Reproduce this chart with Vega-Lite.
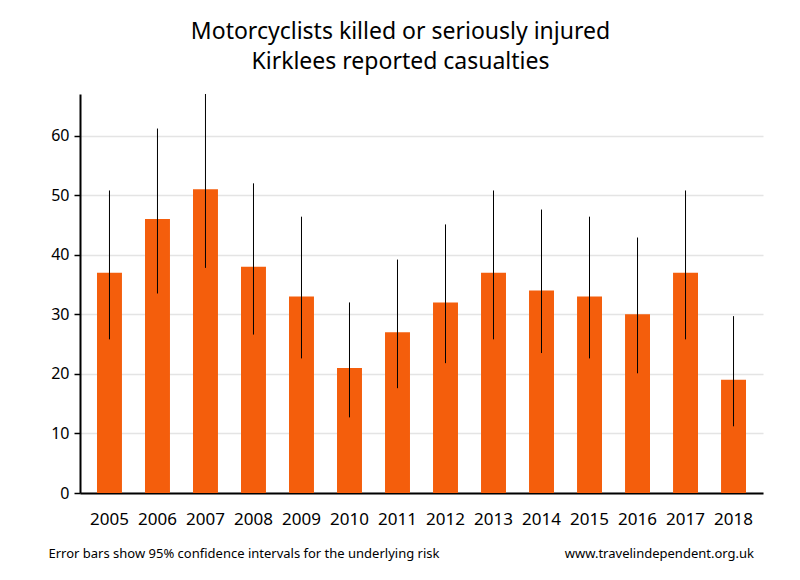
{
  "$schema": "https://vega.github.io/schema/vega-lite/v6.json",
  "width": 683,
  "height": 399,
  "autosize": "none",
  "padding": {"left": 80, "top": 94, "right": 37, "bottom": 87},
  "background": "white",
  "config": {"view": {"stroke": null}, "font": "Noto Sans"},
  "title": {
    "text": ["Motorcyclists killed or seriously injured", "Kirklees reported casualties"],
    "anchor": "middle",
    "frame": "group",
    "dx": -21,
    "offset": 20,
    "fontSize": 23,
    "fontWeight": "normal",
    "lineHeight": 30,
    "color": "black",
    "font": "Noto Sans"
  },
  "data": {
    "values": [
      {"year": "2005", "value": 37, "lo": 25.8, "hi": 50.8},
      {"year": "2006", "value": 46, "lo": 33.5, "hi": 61.2},
      {"year": "2007", "value": 51, "lo": 37.8, "hi": 67.0},
      {"year": "2008", "value": 38, "lo": 26.6, "hi": 52.0},
      {"year": "2009", "value": 33, "lo": 22.6, "hi": 46.4},
      {"year": "2010", "value": 21, "lo": 12.7, "hi": 32.0},
      {"year": "2011", "value": 27, "lo": 17.6, "hi": 39.2},
      {"year": "2012", "value": 32, "lo": 21.8, "hi": 45.1},
      {"year": "2013", "value": 37, "lo": 25.8, "hi": 50.8},
      {"year": "2014", "value": 34, "lo": 23.5, "hi": 47.6},
      {"year": "2015", "value": 33, "lo": 22.6, "hi": 46.4},
      {"year": "2016", "value": 30, "lo": 20.1, "hi": 42.9},
      {"year": "2017", "value": 37, "lo": 25.8, "hi": 50.8},
      {"year": "2018", "value": 19, "lo": 11.2, "hi": 29.7}
    ]
  },
  "layer": [
    {
      "mark": {"type": "bar", "color": "#F45E0C"},
      "encoding": {
        "x": {
          "field": "year",
          "type": "ordinal",
          "scale": {"paddingInner": 0.48, "paddingOuter": 0.354},
          "axis": {
            "title": "Error bars show 95% confidence intervals for the underlying risk",
            "titleAnchor": "start",
            "titleAlign": "left",
            "titleX": -32,
            "titleY": 54,
            "titleFontSize": 13,
            "titleFontWeight": "normal",
            "titleColor": "black",
            "labelAngle": 0,
            "labelFontSize": 17,
            "labelColor": "black",
            "labelPadding": 18,
            "ticks": false,
            "domainColor": "black",
            "domainWidth": 2
          }
        },
        "y": {
          "field": "value",
          "type": "quantitative",
          "scale": {"domain": [0, 67], "nice": false},
          "axis": {
            "title": null,
            "values": [0, 10, 20, 30, 40, 50, 60],
            "labelFontSize": 16,
            "labelColor": "black",
            "labelPadding": 5,
            "tickColor": "black",
            "tickSize": 6,
            "tickWidth": 1.5,
            "domainColor": "black",
            "domainWidth": 2,
            "gridColor": "#e4e4e4",
            "gridWidth": 1.5
          }
        }
      }
    },
    {
      "mark": {"type": "rule", "color": "black", "strokeWidth": 1},
      "encoding": {
        "x": {"field": "year", "type": "ordinal"},
        "y": {"field": "lo", "type": "quantitative"},
        "y2": {"field": "hi"}
      }
    },
    {
      "data": {"values": [{"note": "www.travelindependent.org.uk"}]},
      "mark": {"type": "text", "align": "right", "baseline": "middle", "fontSize": 13, "color": "black", "x": {"expr": "width - 9"}, "y": {"expr": "height + 61"}},
      "encoding": {"text": {"field": "note"}}
    }
  ]
}
